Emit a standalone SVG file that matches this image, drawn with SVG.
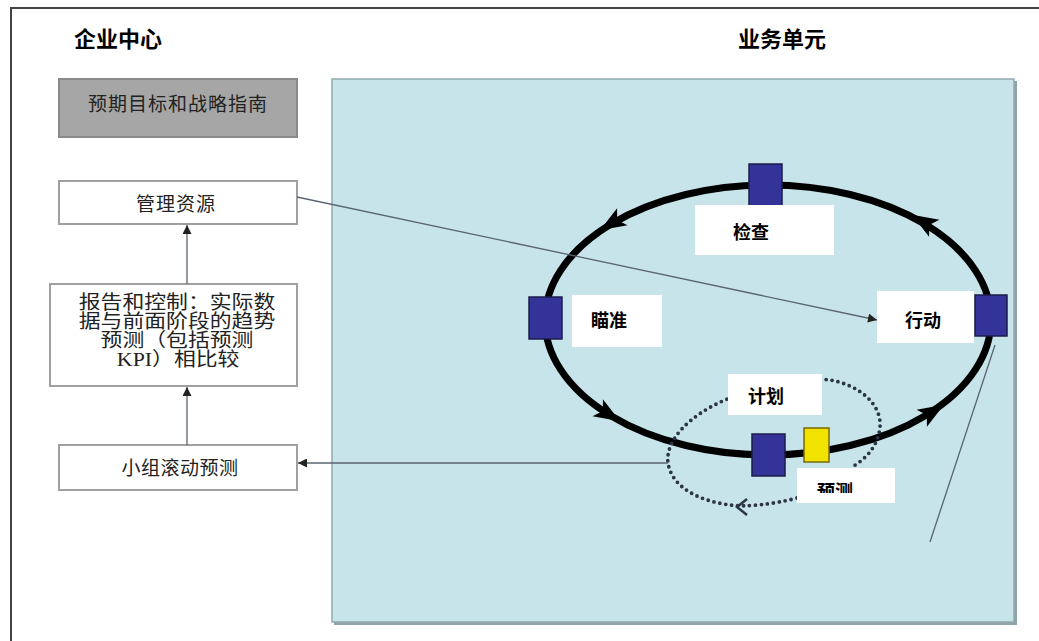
<svg xmlns="http://www.w3.org/2000/svg" width="1039" height="641" viewBox="0 0 1039 641">
<style>
.title{font-family:"Liberation Sans","Noto Sans CJK SC",sans-serif;font-weight:bold;font-size:22px;fill:#000}
.box{fill:#fff;stroke:#a0a0a0;stroke-width:2}
.gbox{fill:#a6a6a6;stroke:#8a8a8a;stroke-width:2}
.t{font-family:"Liberation Serif","Noto Sans CJK SC",serif;font-size:19px;fill:#222;text-anchor:middle}
.lbl{fill:#fff}
.b{font-family:"Liberation Sans","Noto Sans CJK SC",sans-serif;font-weight:bold;font-size:18px;fill:#000}
.sq{fill:#333399;stroke:#1c1c4a;stroke-width:1.5}
.conn{stroke:#5a6570;stroke-width:1.3;fill:none}
</style>
<defs>
<marker id="arr" viewBox="0 0 10 10" refX="10" refY="5" markerWidth="10" markerHeight="9" orient="auto" markerUnits="userSpaceOnUse">
<path d="M0,0 L10,5 L0,10 z" fill="#222"/>
</marker>
<path id="ah" d="M14,0 L-12,-10 L-6,0 L-12,10 Z" fill="#000"/>
<clipPath id="clipYC"><rect x="797" y="481" width="98" height="12"/></clipPath>
</defs>
<rect width="1039" height="641" fill="#fff"/>
<path d="M11,641 V8 H1039" fill="none" stroke="#444" stroke-width="2"/>
<text class="title" x="74" y="47">企业中心</text>
<text class="title" x="738" y="47">业务单元</text>
<g id="panel">
<rect x="334" y="81" width="683" height="544" fill="#8fa3a8"/>
<rect x="332" y="79" width="682" height="543" fill="#c6e4ea" stroke="#93a9ae" stroke-width="1.5"/>
</g>
<g id="goals">
<rect class="gbox" x="59" y="79" width="238" height="58"/>
<text class="t" x="178" y="111" fill="#333" letter-spacing="1">预期目标和战略指南</text>
</g>
<g id="resources">
<rect class="box" x="59" y="181" width="238" height="43"/>
<text class="t" x="176" y="211" letter-spacing="1">管理资源</text>
</g>
<g id="report">
<rect class="box" x="50" y="284" width="247" height="102"/>
<g transform="translate(177,0) scale(1.15,1)">
<text class="t" x="0" y="309" font-size="16.5">报告和控制：实际数</text>
<text class="t" x="0" y="328" font-size="16.5">据与前面阶段的趋势</text>
<text class="t" x="0" y="347" font-size="16.5">预测（包括预测</text>
<text class="t" x="1" y="366" font-size="16.5">KPI）相比较</text>
</g>
</g>
<g id="rolling">
<rect class="box" x="59" y="445" width="238" height="45"/>
<text class="t" x="180" y="475" letter-spacing="0.5">小组滚动预测</text>
</g>
<g id="cycle">
<ellipse cx="768" cy="320" rx="223" ry="135" fill="none" stroke="#000" stroke-width="7"/>
<use href="#ah" transform="translate(612,223) rotate(148.8)"/>
<use href="#ah" transform="translate(608,414) rotate(31.2)"/>
<use href="#ah" transform="translate(932,412) rotate(-31.2)"/>
<use href="#ah" transform="translate(924,222) rotate(211.2)"/>
</g>
<g id="forecast-loop">
<path d="M797,498 C770,505 745,507 730,505 C700,501 672,488 668,463 C665,440 690,415 725,400 C760,385 800,376 830,380 C860,385 882,405 880,427 C878,447 865,460 850,468" fill="none" stroke="#2b3545" stroke-width="3.8" stroke-linecap="round" stroke-dasharray="0 6"/>
<path d="M747,499 L737,507 L747,515" fill="none" stroke="#2b3545" stroke-width="2.5"/>
</g>
<g id="connectors">
<line class="conn" x1="187" y1="284" x2="187" y2="225" marker-end="url(#arr)"/>
<line class="conn" x1="187" y1="445" x2="187" y2="387" marker-end="url(#arr)"/>
<line class="conn" x1="668" y1="463" x2="298" y2="463" marker-end="url(#arr)"/>
<line class="conn" x1="297" y1="197" x2="877" y2="320" marker-end="url(#arr)"/>
<line class="conn" x1="995" y1="345" x2="930" y2="542"/>
</g>
<g id="check">
<rect class="sq" x="749" y="164" width="33" height="42"/>
<rect class="lbl" x="695" y="205" width="139" height="50"/>
<text class="b" x="733" y="239">检查</text>
</g>
<g id="aim">
<rect class="sq" x="529" y="297" width="33" height="42"/>
<rect class="lbl" x="572" y="295" width="90" height="52"/>
<text class="b" x="591" y="327">瞄准</text>
</g>
<g id="act">
<rect class="lbl" x="877" y="291" width="97" height="52"/>
<text class="b" x="905" y="327">行动</text>
<rect class="sq" x="975" y="295" width="32" height="41"/>
</g>
<g id="plan">
<rect class="sq" x="752" y="434" width="33" height="42"/>
<rect class="lbl" x="728" y="374" width="94" height="41"/>
<text class="b" x="748" y="403">计划</text>
</g>
<g id="forecast">
<rect x="804" y="428" width="25" height="34" fill="#f2e200" stroke="#7a6a00" stroke-width="1.5"/>
<rect class="lbl" x="797" y="468" width="98" height="35"/>
<text class="b" x="817" y="498" clip-path="url(#clipYC)">预测</text>
</g>
</svg>
